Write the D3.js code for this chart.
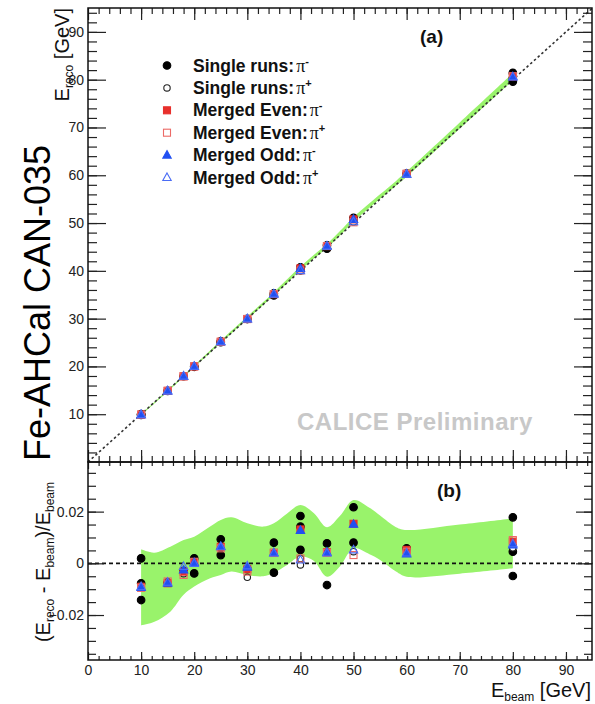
<!DOCTYPE html>
<html>
<head>
<meta charset="utf-8">
<script src="https://cdn.jsdelivr.net/npm/d3@7"></script>
<style>
body { margin: 0; background: #fff; }
text { font-family: "Liberation Sans", Arial, sans-serif; }
</style>
</head>
<body>
<svg id="chart" width="595" height="704"></svg>
<script>
// residuals (E_reco - E_beam)/E_beam, as [E_beam, residual]
var singleMinus = [[10, 0.0019], [10, -0.0077], [10, -0.0142], [15, -0.0074], [18, -0.0030],
    [20, 0.0019], [20, -0.0039], [25, 0.0093], [25, 0.0032], [30, -0.0022], [35, 0.0080], [35, -0.0036],
    [40, 0.0183], [40, 0.0142], [40, 0.0052], [45, 0.0077], [45, -0.0084], [50, 0.0217], [50, 0.0080],
    [60, 0.0058], [80, 0.0178], [80, 0.0045], [80, -0.0049]];
var singlePlus = [[10, -0.0085], [18, -0.0040], [30, -0.0054], [30, -0.0020], [40, 0.0019], [40, -0.0006],
    [50, 0.0045], [60, 0.0050], [80, 0.0060]];
var evenMinus = [[10, -0.0091], [15, -0.0077], [18, -0.0032], [20, 0.0003], [25, 0.0064], [30, -0.0023],
    [35, 0.0041], [40, 0.0131], [45, 0.0043], [50, 0.0153], [60, 0.0052], [80, 0.0084]];
var evenPlus = [[10, -0.0095], [15, -0.0070], [18, -0.0045], [20, 0.0006], [25, 0.0058], [30, -0.0032],
    [35, 0.0040], [40, 0.0019], [45, 0.0041], [50, 0.0032], [60, 0.0045], [80, 0.0090]];
var oddMinus = [[10, -0.0093], [15, -0.0077], [18, -0.0026], [20, 0.0003], [25, 0.0066], [30, -0.0015],
    [35, 0.0041], [40, 0.0127], [45, 0.0043], [50, 0.0151], [60, 0.0036], [80, 0.0071]];
var oddPlus = [[10, -0.0090], [15, -0.0073], [18, -0.0012], [20, 0.0000], [25, 0.0064], [30, -0.0010],
    [35, 0.0040], [40, 0.0013], [45, 0.0040], [50, 0.0052], [60, 0.0040], [80, 0.0076]];

// green uncertainty band (panel b), upper / lower edge
var bandE  = [10, 12.5, 15.5, 18, 20, 23, 25, 27, 30, 33, 35, 37.5, 40, 42.5, 45, 47.5, 50, 53, 55, 58, 60, 70, 80];
var bandHi = [0.0054, 0.0041, 0.0064, 0.0090, 0.0103, 0.0142, 0.0168, 0.0178, 0.0155, 0.0142, 0.0155, 0.0193,
    0.0226, 0.0195, 0.0140, 0.0185, 0.0245, 0.0215, 0.0185, 0.0140, 0.0129, 0.0150, 0.0174];
var bandLo = [-0.0240, -0.0226, -0.0187, -0.0122, -0.0090, -0.0058, -0.0045, -0.0032, -0.0045, -0.0050, -0.0036,
    -0.0006, 0.0026, 0.0010, -0.0052, -0.0010, 0.0058, 0.0035, 0.0013, -0.0032, -0.0052, -0.0040, -0.0019];

var xMajor = [0, 10, 20, 30, 40, 50, 60, 70, 80, 90];
var yTopMajor = [10, 20, 30, 40, 50, 60, 70, 80, 90];
var yBotMajor = [-0.02, 0, 0.02];
var legendLabels = [["Single runs:", "-"], ["Single runs:", "+"], ["Merged Even:", "-"],
    ["Merged Even:", "+"], ["Merged Odd:", "-"], ["Merged Odd:", "+"]];

var svg = d3.select("#chart");
var L = 88, R = 592, T = 8, M = 462, B = 660;

var x = d3.scaleLinear().domain([0, 95]).range([L, R + 0.5]);
var yTop = d3.scaleLinear().domain([0, 95]).range([M, T]);
var yBot = d3.scaleLinear().domain([-0.0374, 0.0392]).range([B, M]);

var green = "#99f36b", red = "#e8302c", blue = "#2150f2";

function range(a, b, s) {
    var out = [];
    for (var v = a; v <= b + 1e-9; v += s) out.push(+v.toFixed(4));
    return out;
}

var band = bandE.map(function (e, i) { return { e: e, hi: bandHi[i], lo: bandLo[i] }; });

// ---------- panel (a) ----------
var gTop = svg.append("g");
gTop.append("path")
    .datum(band)
    .attr("fill", green)
    .attr("d", d3.area()
        .curve(d3.curveCatmullRom.alpha(0.5))
        .x(function (d) { return x(d.e); })
        .y0(function (d) { return yTop(d.e * (1 + d.lo)); })
        .y1(function (d) { return yTop(d.e * (1 + d.hi)); }));

gTop.append("line")
    .attr("x1", x(0)).attr("y1", yTop(0)).attr("x2", x(95)).attr("y2", yTop(95))
    .attr("stroke", "#333").attr("stroke-width", 1.6).attr("stroke-dasharray", "2.5,2.5");

// ---------- panel (b) ----------
var gBot = svg.append("g");
gBot.append("path")
    .datum(band)
    .attr("fill", green)
    .attr("d", d3.area()
        .curve(d3.curveCatmullRom.alpha(0.5))
        .x(function (d) { return x(d.e); })
        .y0(function (d) { return yBot(d.lo); })
        .y1(function (d) { return yBot(d.hi); }));

gBot.append("line")
    .attr("x1", x(0)).attr("y1", yBot(0)).attr("x2", x(95)).attr("y2", yBot(0))
    .attr("stroke", "#111").attr("stroke-width", 1.6).attr("stroke-dasharray", "4,3");

// ---------- markers ----------
var series = [
    { data: singleMinus, shape: "circle", fill: "#000", stroke: "#000" },
    { data: singlePlus, shape: "circle", fill: "#fff", stroke: "#222" },
    { data: evenMinus, shape: "square", fill: red, stroke: red },
    { data: evenPlus, shape: "square", fill: "none", stroke: "#ec6a66" },
    { data: oddMinus, shape: "triangle", fill: blue, stroke: blue },
    { data: oddPlus, shape: "triangle", fill: "none", stroke: "#4a6cf5" }
];

function drawMarker(g, shape, cx, cy, fill, stroke) {
    if (shape == "circle") {
        g.append("circle").attr("cx", cx).attr("cy", cy).attr("r", fill == "#fff" ? 3.2 : 3.8)
            .attr("fill", fill).attr("stroke", stroke).attr("stroke-width", 1.1);
    } else if (shape == "square") {
        g.append("rect").attr("x", cx - 3.5).attr("y", cy - 3.5).attr("width", 7).attr("height", 7)
            .attr("fill", fill).attr("stroke", stroke).attr("stroke-width", 1.1);
    } else {
        g.append("path").attr("d", "M" + cx + "," + (cy - 4.5) + "L" + (cx + 4.2) + "," + (cy + 3) + "L" + (cx - 4.2) + "," + (cy + 3) + "Z")
            .attr("fill", fill).attr("stroke", stroke).attr("stroke-width", 1.1);
    }
}

series.forEach(function (s) {
    var gt = gTop.append("g"), gb = gBot.append("g");
    s.data.forEach(function (d) {
        drawMarker(gt, s.shape, x(d[0]), yTop(d[0] * (1 + d[1])), s.fill, s.stroke);
        drawMarker(gb, s.shape, x(d[0]), yBot(d[1]), s.fill, s.stroke);
    });
});

// ---------- axes (ticks inside, ROOT style) ----------
function axis(gen, scale, major, minor, majLen, minLen, fmt, tx, ty, pad) {
    var g1 = svg.append("g").attr("transform", "translate(" + tx + "," + ty + ")")
        .call(gen(scale).tickValues(minor).tickSize(-minLen).tickFormat(""));
    var g2 = svg.append("g").attr("transform", "translate(" + tx + "," + ty + ")")
        .call(gen(scale).tickValues(major).tickSize(-majLen).tickPadding(pad || 4).tickFormat(fmt));
    [g1, g2].forEach(function (g) {
        g.select(".domain").remove();
        g.selectAll("line").attr("stroke", "#222").attr("stroke-width", 1.2);
        g.selectAll("text").attr("font-size", 14).attr("fill", "#222")
            .style("font-family", "'Liberation Sans', Arial, sans-serif");
    });
}
var none = function () { return ""; };
var xMinor = range(2, 94, 2);

// panel a
axis(d3.axisTop, x, xMajor, xMinor, 12, 6, none, 0, T);
axis(d3.axisBottom, x, xMajor, xMinor, 12, 6, none, 0, M);
axis(d3.axisLeft, yTop, yTopMajor, range(2, 94, 2), 18, 9, d3.format("d"), L, 0, 4);
axis(d3.axisRight, yTop, yTopMajor, range(2, 94, 2), 18, 9, none, R, 0);
// panel b
axis(d3.axisTop, x, xMajor, xMinor, 7, 4, none, 0, M);
axis(d3.axisBottom, x, xMajor, xMinor, 8, 4, d3.format("d"), 0, B, 5);
axis(d3.axisLeft, yBot, yBotMajor, range(-0.035, 0.035, 0.005), 16, 8, function (d) { return d == 0 ? "0" : d3.format(".2f")(d); }, L, 0, 4);
axis(d3.axisRight, yBot, yBotMajor, range(-0.035, 0.035, 0.005), 16, 8, none, R, 0);

// frames
svg.append("rect").attr("x", L).attr("y", T).attr("width", R - L).attr("height", M - T)
    .attr("fill", "none").attr("stroke", "#111").attr("stroke-width", 1.5);
svg.append("rect").attr("x", L).attr("y", M).attr("width", R - L).attr("height", B - M)
    .attr("fill", "none").attr("stroke", "#111").attr("stroke-width", 1.5);

// ---------- legend ----------
var leg = svg.append("g");
legendLabels.forEach(function (lab, i) {
    var cy = 65.5 + i * 22.4;
    drawMarker(leg, series[i].shape, 167, cy, series[i].fill, series[i].stroke);
    var t = leg.append("text").attr("x", 193).attr("y", cy + 6)
        .attr("font-size", 17.5).attr("font-weight", "bold").attr("fill", "#111");
    t.append("tspan").text(lab[0]);
    t.append("tspan").attr("dx", 2).style("font-family", "'Liberation Serif', 'Times New Roman', serif")
        .attr("font-weight", "normal").attr("font-size", 18).text("\u03c0");
    t.append("tspan").attr("dy", -7).attr("font-size", 11).text(lab[1]);
});

// ---------- texts ----------
svg.append("text").attr("x", 420).attr("y", 43).attr("font-size", 19).attr("font-weight", "bold")
    .attr("fill", "#111").text("(a)");
svg.append("text").attr("x", 437).attr("y", 497).attr("font-size", 19).attr("font-weight", "bold")
    .attr("fill", "#111").text("(b)");
svg.append("text").attr("x", 297).attr("y", 430).attr("font-size", 24).attr("font-weight", "bold")
    .attr("letter-spacing", 0.5).attr("fill", "#c8c8c8").text("CALICE Preliminary");

svg.append("text").attr("transform", "translate(50,461) rotate(-90)")
    .attr("font-size", 36).attr("fill", "#000").text("Fe-AHCal CAN-035");

var ylab = svg.append("text").attr("transform", "translate(69,8) rotate(-90)")
    .attr("text-anchor", "end").attr("font-size", 20).attr("fill", "#111");
ylab.append("tspan").text("E");
ylab.append("tspan").attr("dy", 4).attr("font-size", 12).text("reco");
ylab.append("tspan").attr("dy", -4).text(" [GeV]");

var ylab2 = svg.append("text").attr("transform", "translate(50,562) rotate(-90)")
    .attr("text-anchor", "middle").attr("font-size", 20).attr("fill", "#111");
ylab2.append("tspan").text("(E");
ylab2.append("tspan").attr("dy", 4).attr("font-size", 12).text("reco");
ylab2.append("tspan").attr("dy", -4).text(" - E");
ylab2.append("tspan").attr("dy", 4).attr("font-size", 12).text("beam");
ylab2.append("tspan").attr("dy", -4).text(")/E");
ylab2.append("tspan").attr("dy", 4).attr("font-size", 12).text("beam");

var xlab = svg.append("text").attr("x", 591).attr("y", 697)
    .attr("text-anchor", "end").attr("font-size", 20).attr("fill", "#111");
xlab.append("tspan").text("E");
xlab.append("tspan").attr("dy", 4).attr("font-size", 12).text("beam");
xlab.append("tspan").attr("dy", -4).text(" [GeV]");
</script>
</body>
</html>
